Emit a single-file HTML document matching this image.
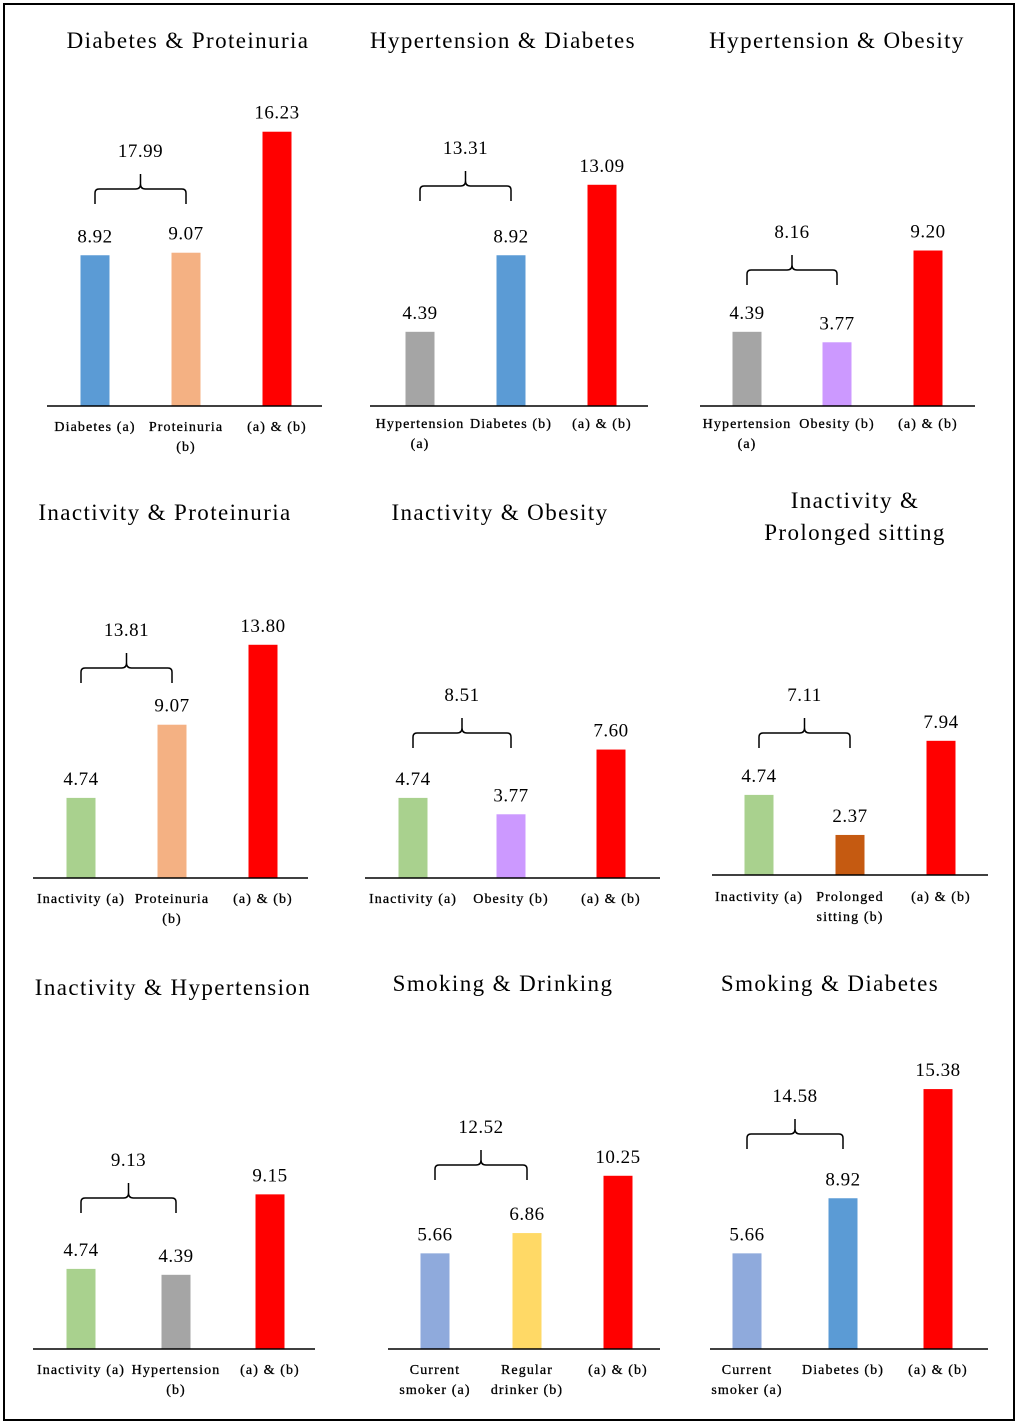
<!DOCTYPE html>
<html><head><meta charset="utf-8">
<style>
html,body{margin:0;padding:0;background:#fff;}
svg{display:block;font-family:"Liberation Serif",serif;}
</style></head>
<body>
<svg id="chart" width="1020" height="1427" viewBox="0 0 1020 1427">
<rect x="4" y="4" width="1010" height="1416" fill="none" stroke="#000" stroke-width="2"/>
</svg>
<script>
const titles = [["Diabetes & Proteinuria"],["Hypertension & Diabetes"],["Hypertension & Obesity"],["Inactivity & Proteinuria"],["Inactivity & Obesity"],["Inactivity &","Prolonged sitting"],["Inactivity & Hypertension"],["Smoking & Drinking"],["Smoking & Diabetes"]];
const valuesA = [8.92,4.39,4.39,4.74,4.74,4.74,4.74,5.66,5.66];
const valuesB = [9.07,8.92,3.77,9.07,3.77,2.37,4.39,6.86,8.92];
const valuesAB = [16.23,13.09,9.20,13.80,7.60,7.94,9.15,10.25,15.38];
const sumLabels = ["17.99","13.31","8.16","13.81","8.51","7.11","9.13","12.52","14.58"];
const catA = [["Diabetes (a)"],["Hypertension","(a)"],["Hypertension","(a)"],["Inactivity (a)"],["Inactivity (a)"],["Inactivity (a)"],["Inactivity (a)"],["Current","smoker (a)"],["Current","smoker (a)"]];
const catB = [["Proteinuria","(b)"],["Diabetes (b)"],["Obesity (b)"],["Proteinuria","(b)"],["Obesity (b)"],["Prolonged","sitting (b)"],["Hypertension","(b)"],["Regular","drinker (b)"],["Diabetes (b)"]];
const colorA = ["#5b9bd5","#a5a5a5","#a5a5a5","#a9d18e","#a9d18e","#a9d18e","#a9d18e","#8faadc","#8faadc"];
const colorB = ["#f4b183","#5b9bd5","#cc99ff","#f4b183","#cc99ff","#c55a11","#a5a5a5","#ffd966","#5b9bd5"];
// layout
const layout = [
 {x0:47,x1:322,base:406,bars:[95,186,277],tx:188,ty:[48],brace:189,cy:431},
 {x0:370,x1:648,base:406,bars:[420,511,602],tx:503,ty:[48],brace:186,cy:428},
 {x0:700,x1:975,base:406,bars:[747,837,928],tx:837,ty:[48],brace:270,cy:428},
 {x0:33,x1:308,base:878,bars:[81,172,263],tx:165,ty:[520],brace:668,cy:903},
 {x0:365,x1:660,base:878,bars:[413,511,611],tx:500,ty:[520],brace:733,cy:903},
 {x0:712,x1:988,base:875,bars:[759,850,941],tx:855,ty:[508,540],brace:733,cy:901},
 {x0:33,x1:315,base:1349,bars:[81,176,270],tx:173,ty:[995],brace:1198,cy:1374},
 {x0:388,x1:660,base:1349,bars:[435,527,618],tx:503,ty:[991],brace:1165,cy:1374},
 {x0:710,x1:988,base:1349,bars:[747,843,938],tx:830,ty:[991],brace:1134,cy:1374}
];
const scale = 16.9, bw = 29;
const svg = document.getElementById('chart');
const NS = "http://www.w3.org/2000/svg";
function mk(tag, attrs, parent){const e=document.createElementNS(NS,tag);for(const k in attrs)e.setAttribute(k,attrs[k]);(parent||svg).appendChild(e);return e;}
function yv(v,base){return base - v*scale;}
layout.forEach((L,i)=>{
  const g = mk('g',{});
  
  
  titles[i].forEach((t,j)=>{
    const e=mk('text',{x:L.tx,y:L.ty[j],'text-anchor':'middle','font-size':'23','letter-spacing':'1.4'},g);
    e.textContent=t;
    
    
  });
  const vals=[valuesA[i],valuesB[i],valuesAB[i]];
  const cols=[colorA[i],colorB[i],"#ff0000"];
  const cats=[catA[i],catB[i],["(a) & (b)"]];
  vals.forEach((v,k)=>{
    const top=yv(v,L.base);
    const r=mk('rect',{x:L.bars[k]-bw/2,y:top,width:bw,height:L.base-top,fill:cols[k]},g);
    
    
    const t=mk('text',{x:L.bars[k],y:top-13,'text-anchor':'middle','font-size':'19','letter-spacing':'0.5'},g);
    t.textContent=v.toFixed(2);
    
    
    cats[k].forEach((c,j)=>{
      const ct=mk('text',{x:L.bars[k],y:L.cy+j*20,'text-anchor':'middle','font-size':'14','letter-spacing':'1.1','stroke':'#000','stroke-width':'0.3'},g);
      ct.textContent=c;
      
      
    });
  });
  const ax=mk('line',{x1:L.x0,x2:L.x1,y1:L.base,y2:L.base,stroke:'#000','stroke-width':1.5},g);
  
  
  const a=L.bars[0], b=L.bars[1], m=(a+b)/2, y=L.brace;
  const p=`M${a},${y+15} L${a},${y+4} Q${a},${y} ${a+4},${y} L${m-5},${y} Q${m},${y} ${m},${y-5} L${m},${y-15} M${m},${y-5} Q${m},${y} ${m+5},${y} L${b-4},${y} Q${b},${y} ${b},${y+4} L${b},${y+15}`;
  const br=mk('path',{d:p,fill:'none',stroke:'#000','stroke-width':1.5},g);
  
  
  const st=mk('text',{x:m,y:y-32,'text-anchor':'middle','font-size':'19','letter-spacing':'0.5'},g);
  st.textContent=sumLabels[i];
  
  
});
</script>
</body></html>
